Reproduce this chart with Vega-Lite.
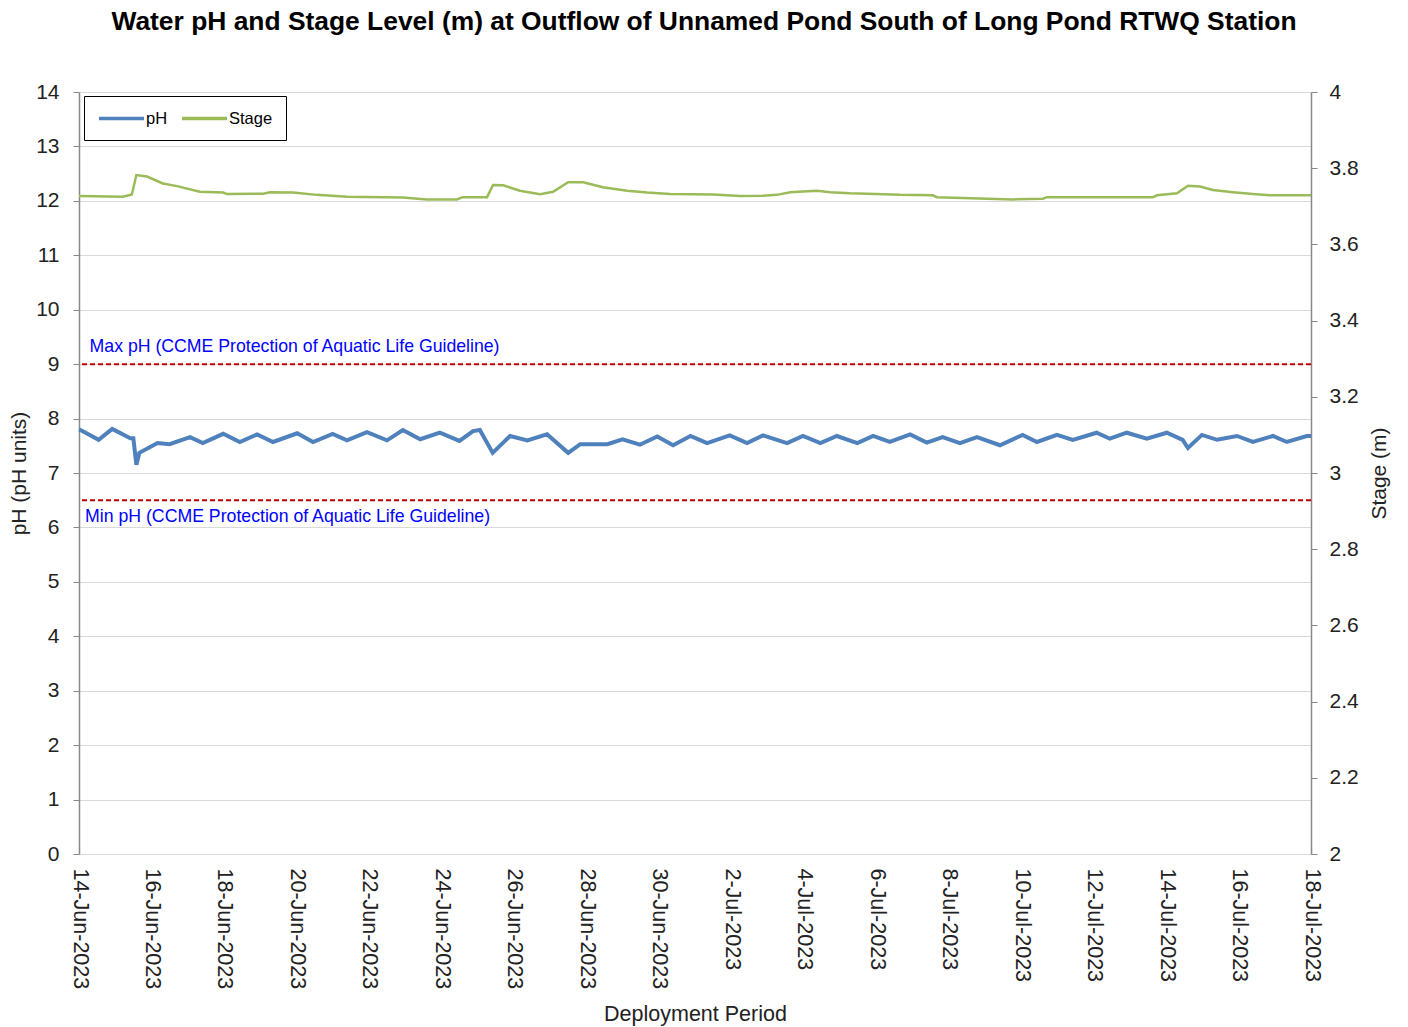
{
  "$schema": "https://vega.github.io/schema/vega-lite/v6.json",
  "width": 1232,
  "height": 762,
  "autosize": {"type": "none"},
  "padding": {"left": 79, "top": 92, "right": 97, "bottom": 173},
  "background": "white",
  "title": {
    "text": "Water pH and Stage Level (m) at Outflow of Unnamed Pond South of Long Pond RTWQ Station",
    "font": "Liberation Sans",
    "fontSize": 26.4,
    "fontWeight": "bold",
    "color": "#000000",
    "anchor": "middle",
    "offset": 46,
    "dx": 9
  },
  "config": {
    "font": "Liberation Sans",
    "view": {"stroke": null}
  },
  "datasets": {
    "ph": [
      {"t": "2023-06-14T00:00", "v": 7.80},
      {"t": "2023-06-14T01:00", "v": 7.79},
      {"t": "2023-06-14T13:00", "v": 7.61},
      {"t": "2023-06-14T22:00", "v": 7.81},
      {"t": "2023-06-15T10:00", "v": 7.64},
      {"t": "2023-06-15T12:00", "v": 7.64},
      {"t": "2023-06-15T14:00", "v": 7.15},
      {"t": "2023-06-15T16:00", "v": 7.37},
      {"t": "2023-06-16T04:00", "v": 7.55},
      {"t": "2023-06-16T12:00", "v": 7.53},
      {"t": "2023-06-17T01:30", "v": 7.66},
      {"t": "2023-06-17T10:00", "v": 7.55},
      {"t": "2023-06-17T23:30", "v": 7.72},
      {"t": "2023-06-18T10:30", "v": 7.57},
      {"t": "2023-06-18T22:00", "v": 7.71},
      {"t": "2023-06-19T08:30", "v": 7.57},
      {"t": "2023-06-20T00:30", "v": 7.73},
      {"t": "2023-06-20T11:00", "v": 7.57},
      {"t": "2023-06-21T00:00", "v": 7.72},
      {"t": "2023-06-21T09:30", "v": 7.60},
      {"t": "2023-06-21T22:45", "v": 7.75},
      {"t": "2023-06-22T12:00", "v": 7.60},
      {"t": "2023-06-22T22:30", "v": 7.79},
      {"t": "2023-06-23T10:00", "v": 7.62},
      {"t": "2023-06-23T23:00", "v": 7.74},
      {"t": "2023-06-24T12:00", "v": 7.59},
      {"t": "2023-06-24T21:00", "v": 7.77},
      {"t": "2023-06-25T01:30", "v": 7.79},
      {"t": "2023-06-25T10:00", "v": 7.37},
      {"t": "2023-06-25T21:30", "v": 7.68},
      {"t": "2023-06-26T09:00", "v": 7.60},
      {"t": "2023-06-26T22:00", "v": 7.71},
      {"t": "2023-06-27T12:00", "v": 7.37},
      {"t": "2023-06-27T20:00", "v": 7.53},
      {"t": "2023-06-28T14:00", "v": 7.53},
      {"t": "2023-06-29T00:00", "v": 7.62},
      {"t": "2023-06-29T11:30", "v": 7.52},
      {"t": "2023-06-29T23:00", "v": 7.67},
      {"t": "2023-06-30T09:30", "v": 7.51},
      {"t": "2023-06-30T21:00", "v": 7.68},
      {"t": "2023-07-01T08:00", "v": 7.55},
      {"t": "2023-07-01T23:00", "v": 7.69},
      {"t": "2023-07-02T10:30", "v": 7.55},
      {"t": "2023-07-02T21:00", "v": 7.69},
      {"t": "2023-07-03T13:00", "v": 7.55},
      {"t": "2023-07-03T23:30", "v": 7.68},
      {"t": "2023-07-04T11:00", "v": 7.55},
      {"t": "2023-07-04T22:00", "v": 7.68},
      {"t": "2023-07-05T11:30", "v": 7.55},
      {"t": "2023-07-05T22:00", "v": 7.68},
      {"t": "2023-07-06T09:00", "v": 7.57},
      {"t": "2023-07-06T22:30", "v": 7.71},
      {"t": "2023-07-07T09:30", "v": 7.56},
      {"t": "2023-07-07T20:00", "v": 7.66},
      {"t": "2023-07-08T07:30", "v": 7.55},
      {"t": "2023-07-08T18:45", "v": 7.66},
      {"t": "2023-07-09T10:00", "v": 7.51},
      {"t": "2023-07-10T01:00", "v": 7.70},
      {"t": "2023-07-10T10:30", "v": 7.57},
      {"t": "2023-07-10T23:45", "v": 7.70},
      {"t": "2023-07-11T10:15", "v": 7.61},
      {"t": "2023-07-12T02:00", "v": 7.74},
      {"t": "2023-07-12T10:45", "v": 7.63},
      {"t": "2023-07-12T22:00", "v": 7.74},
      {"t": "2023-07-13T11:15", "v": 7.63},
      {"t": "2023-07-14T00:30", "v": 7.74},
      {"t": "2023-07-14T11:00", "v": 7.61},
      {"t": "2023-07-14T14:30", "v": 7.46},
      {"t": "2023-07-14T23:45", "v": 7.70},
      {"t": "2023-07-15T09:45", "v": 7.61},
      {"t": "2023-07-15T23:00", "v": 7.68},
      {"t": "2023-07-16T09:30", "v": 7.57},
      {"t": "2023-07-16T22:45", "v": 7.68},
      {"t": "2023-07-17T08:00", "v": 7.57},
      {"t": "2023-07-17T21:15", "v": 7.68},
      {"t": "2023-07-18T00:00", "v": 7.68}
    ],
    "stage": [
      {"t": "2023-06-14T00:00", "v": 3.727},
      {"t": "2023-06-15T05:00", "v": 3.725},
      {"t": "2023-06-15T11:00", "v": 3.731},
      {"t": "2023-06-15T14:00", "v": 3.782},
      {"t": "2023-06-15T21:00", "v": 3.778},
      {"t": "2023-06-16T07:30", "v": 3.760},
      {"t": "2023-06-16T17:00", "v": 3.753},
      {"t": "2023-06-17T08:00", "v": 3.738},
      {"t": "2023-06-17T23:30", "v": 3.736},
      {"t": "2023-06-18T02:00", "v": 3.732},
      {"t": "2023-06-19T02:00", "v": 3.733},
      {"t": "2023-06-19T06:30", "v": 3.737},
      {"t": "2023-06-19T21:45", "v": 3.736},
      {"t": "2023-06-20T13:30", "v": 3.730},
      {"t": "2023-06-21T09:30", "v": 3.725},
      {"t": "2023-06-22T22:30", "v": 3.723},
      {"t": "2023-06-23T14:30", "v": 3.718},
      {"t": "2023-06-24T10:15", "v": 3.718},
      {"t": "2023-06-24T14:15", "v": 3.724},
      {"t": "2023-06-25T06:15", "v": 3.724},
      {"t": "2023-06-25T10:15", "v": 3.756},
      {"t": "2023-06-25T17:00", "v": 3.755},
      {"t": "2023-06-26T04:00", "v": 3.741},
      {"t": "2023-06-26T17:20", "v": 3.732},
      {"t": "2023-06-27T02:00", "v": 3.738},
      {"t": "2023-06-27T12:00", "v": 3.763},
      {"t": "2023-06-27T22:00", "v": 3.763},
      {"t": "2023-06-28T11:00", "v": 3.750},
      {"t": "2023-06-29T03:00", "v": 3.741},
      {"t": "2023-06-29T16:15", "v": 3.736},
      {"t": "2023-06-30T07:30", "v": 3.732},
      {"t": "2023-07-01T12:00", "v": 3.731},
      {"t": "2023-07-02T06:00", "v": 3.727},
      {"t": "2023-07-02T21:00", "v": 3.728},
      {"t": "2023-07-03T06:15", "v": 3.730},
      {"t": "2023-07-03T15:00", "v": 3.737},
      {"t": "2023-07-03T23:30", "v": 3.739},
      {"t": "2023-07-04T09:00", "v": 3.741},
      {"t": "2023-07-04T17:30", "v": 3.737},
      {"t": "2023-07-05T06:30", "v": 3.734},
      {"t": "2023-07-06T11:00", "v": 3.731},
      {"t": "2023-07-06T15:45", "v": 3.730},
      {"t": "2023-07-07T13:30", "v": 3.729},
      {"t": "2023-07-07T16:15", "v": 3.724},
      {"t": "2023-07-09T18:30", "v": 3.718},
      {"t": "2023-07-10T14:30", "v": 3.720},
      {"t": "2023-07-10T17:00", "v": 3.724},
      {"t": "2023-07-13T15:15", "v": 3.724},
      {"t": "2023-07-13T18:00", "v": 3.729},
      {"t": "2023-07-14T07:15", "v": 3.734},
      {"t": "2023-07-14T14:30", "v": 3.754},
      {"t": "2023-07-14T22:30", "v": 3.752},
      {"t": "2023-07-15T07:00", "v": 3.743},
      {"t": "2023-07-15T20:15", "v": 3.737},
      {"t": "2023-07-16T09:30", "v": 3.732},
      {"t": "2023-07-16T20:45", "v": 3.729},
      {"t": "2023-07-18T00:00", "v": 3.729}
    ],
    "guides": [
      {"v": 9},
      {"v": 6.5}
    ],
    "labels": [
      {"t": "2023-06-14T07:00", "v": 9.31, "label": "Max pH (CCME Protection of Aquatic Life Guideline)"},
      {"t": "2023-06-14T04:00", "v": 6.19, "label": "Min pH (CCME Protection of Aquatic Life Guideline)"}
    ]
  },
  "layer": [
    {
      "layer": [
        {
          "data": {"name": "ph"},
          "mark": {"type": "line", "strokeWidth": 4},
          "encoding": {
            "x": {
              "field": "t",
              "type": "temporal",
              "scale": {"domain": [{"year": 2023, "month": 6, "date": 14}, {"year": 2023, "month": 7, "date": 18}]},
              "axis": {
                "values": [
                  {"year": 2023, "month": 6, "date": 14},
                  {"year": 2023, "month": 6, "date": 16},
                  {"year": 2023, "month": 6, "date": 18},
                  {"year": 2023, "month": 6, "date": 20},
                  {"year": 2023, "month": 6, "date": 22},
                  {"year": 2023, "month": 6, "date": 24},
                  {"year": 2023, "month": 6, "date": 26},
                  {"year": 2023, "month": 6, "date": 28},
                  {"year": 2023, "month": 6, "date": 30},
                  {"year": 2023, "month": 7, "date": 2},
                  {"year": 2023, "month": 7, "date": 4},
                  {"year": 2023, "month": 7, "date": 6},
                  {"year": 2023, "month": 7, "date": 8},
                  {"year": 2023, "month": 7, "date": 10},
                  {"year": 2023, "month": 7, "date": 12},
                  {"year": 2023, "month": 7, "date": 14},
                  {"year": 2023, "month": 7, "date": 16},
                  {"year": 2023, "month": 7, "date": 18}
                ],
                "format": "%-d-%b-%Y",
                "labelAngle": 90,
                "labelAlign": "left",
                "labelBaseline": "middle",
                "labelFontSize": 21.5,
                "labelColor": "#222222",
                "labelPadding": 14,
                "labelFlush": false,
                "labelOverlap": false,
                "ticks": false,
                "domain": false,
                "grid": false,
                "title": "Deployment Period",
                "titleFontSize": 21.5,
                "titleFontWeight": "normal",
                "titleColor": "#222222",
                "titlePadding": 15
              }
            },
            "y": {
              "field": "v",
              "type": "quantitative",
              "scale": {"domain": [0, 14], "nice": false, "zero": false},
              "axis": {
                "values": [0, 1, 2, 3, 4, 5, 6, 7, 8, 9, 10, 11, 12, 13, 14],
                "format": "d",
                "grid": true,
                "gridColor": "#d9d9d9",
                "gridWidth": 1,
                "domainColor": "#888888",
                "domainWidth": 1.5,
                "tickColor": "#888888",
                "tickSize": 6,
                "labelFontSize": 21,
                "labelColor": "#222222",
                "labelPadding": 14,
                "title": "pH (pH units)",
                "titleFontSize": 21,
                "titleFontWeight": "normal",
                "titleColor": "#222222",
                "titlePadding": 6
              }
            },
            "color": {
              "datum": "pH",
              "type": "nominal",
              "scale": {"domain": ["pH", "Stage"], "range": ["#4f81bd", "#9bbb59"]},
              "legend": {
                "orient": "none",
                "legendX": 5,
                "legendY": 4,
                "direction": "horizontal",
                "title": null,
                "strokeColor": "#000000",
                "fillColor": "white",
                "padding": 13,
                "symbolType": "M-1,0H5",
                "symbolSize": 225,
                "symbolStrokeWidth": 3.5,
                "labelFontSize": 16.5,
                "labelColor": "#000000",
                "labelOffset": 30,
                "columnPadding": 7,
                "cornerRadius": 0
              }
            }
          }
        },
        {
          "data": {"name": "guides"},
          "mark": {"type": "rule", "color": "#c00000", "strokeWidth": 2, "strokeDash": [5, 3]},
          "encoding": {
            "y": {"field": "v", "type": "quantitative"}
          }
        },
        {
          "data": {"name": "labels"},
          "mark": {"type": "text", "align": "left", "baseline": "middle", "color": "#0000ff", "fontSize": 17.7},
          "encoding": {
            "x": {"field": "t", "type": "temporal"},
            "y": {"field": "v", "type": "quantitative"},
            "text": {"field": "label"}
          }
        }
      ]
    },
    {
      "data": {"name": "stage"},
      "mark": {"type": "line", "strokeWidth": 2.5},
      "encoding": {
        "x": {"field": "t", "type": "temporal"},
        "y": {
          "field": "v",
          "type": "quantitative",
          "scale": {"domain": [2, 4], "nice": false, "zero": false},
          "axis": {
            "orient": "right",
            "values": [2, 2.2, 2.4, 2.6, 2.8, 3, 3.2, 3.4, 3.6, 3.8, 4],
            "format": "~g",
            "grid": false,
            "domainColor": "#888888",
            "domainWidth": 1.5,
            "tickColor": "#888888",
            "tickSize": 6,
            "labelFontSize": 21,
            "labelColor": "#222222",
            "labelPadding": 12,
            "title": "Stage (m)",
            "titleAngle": 270,
            "titleBaseline": "top",
            "titleFontSize": 21,
            "titleFontWeight": "normal",
            "titleColor": "#222222",
            "titlePadding": 10
          }
        },
        "color": {"datum": "Stage", "type": "nominal"}
      }
    }
  ],
  "resolve": {"scale": {"y": "independent"}}
}
